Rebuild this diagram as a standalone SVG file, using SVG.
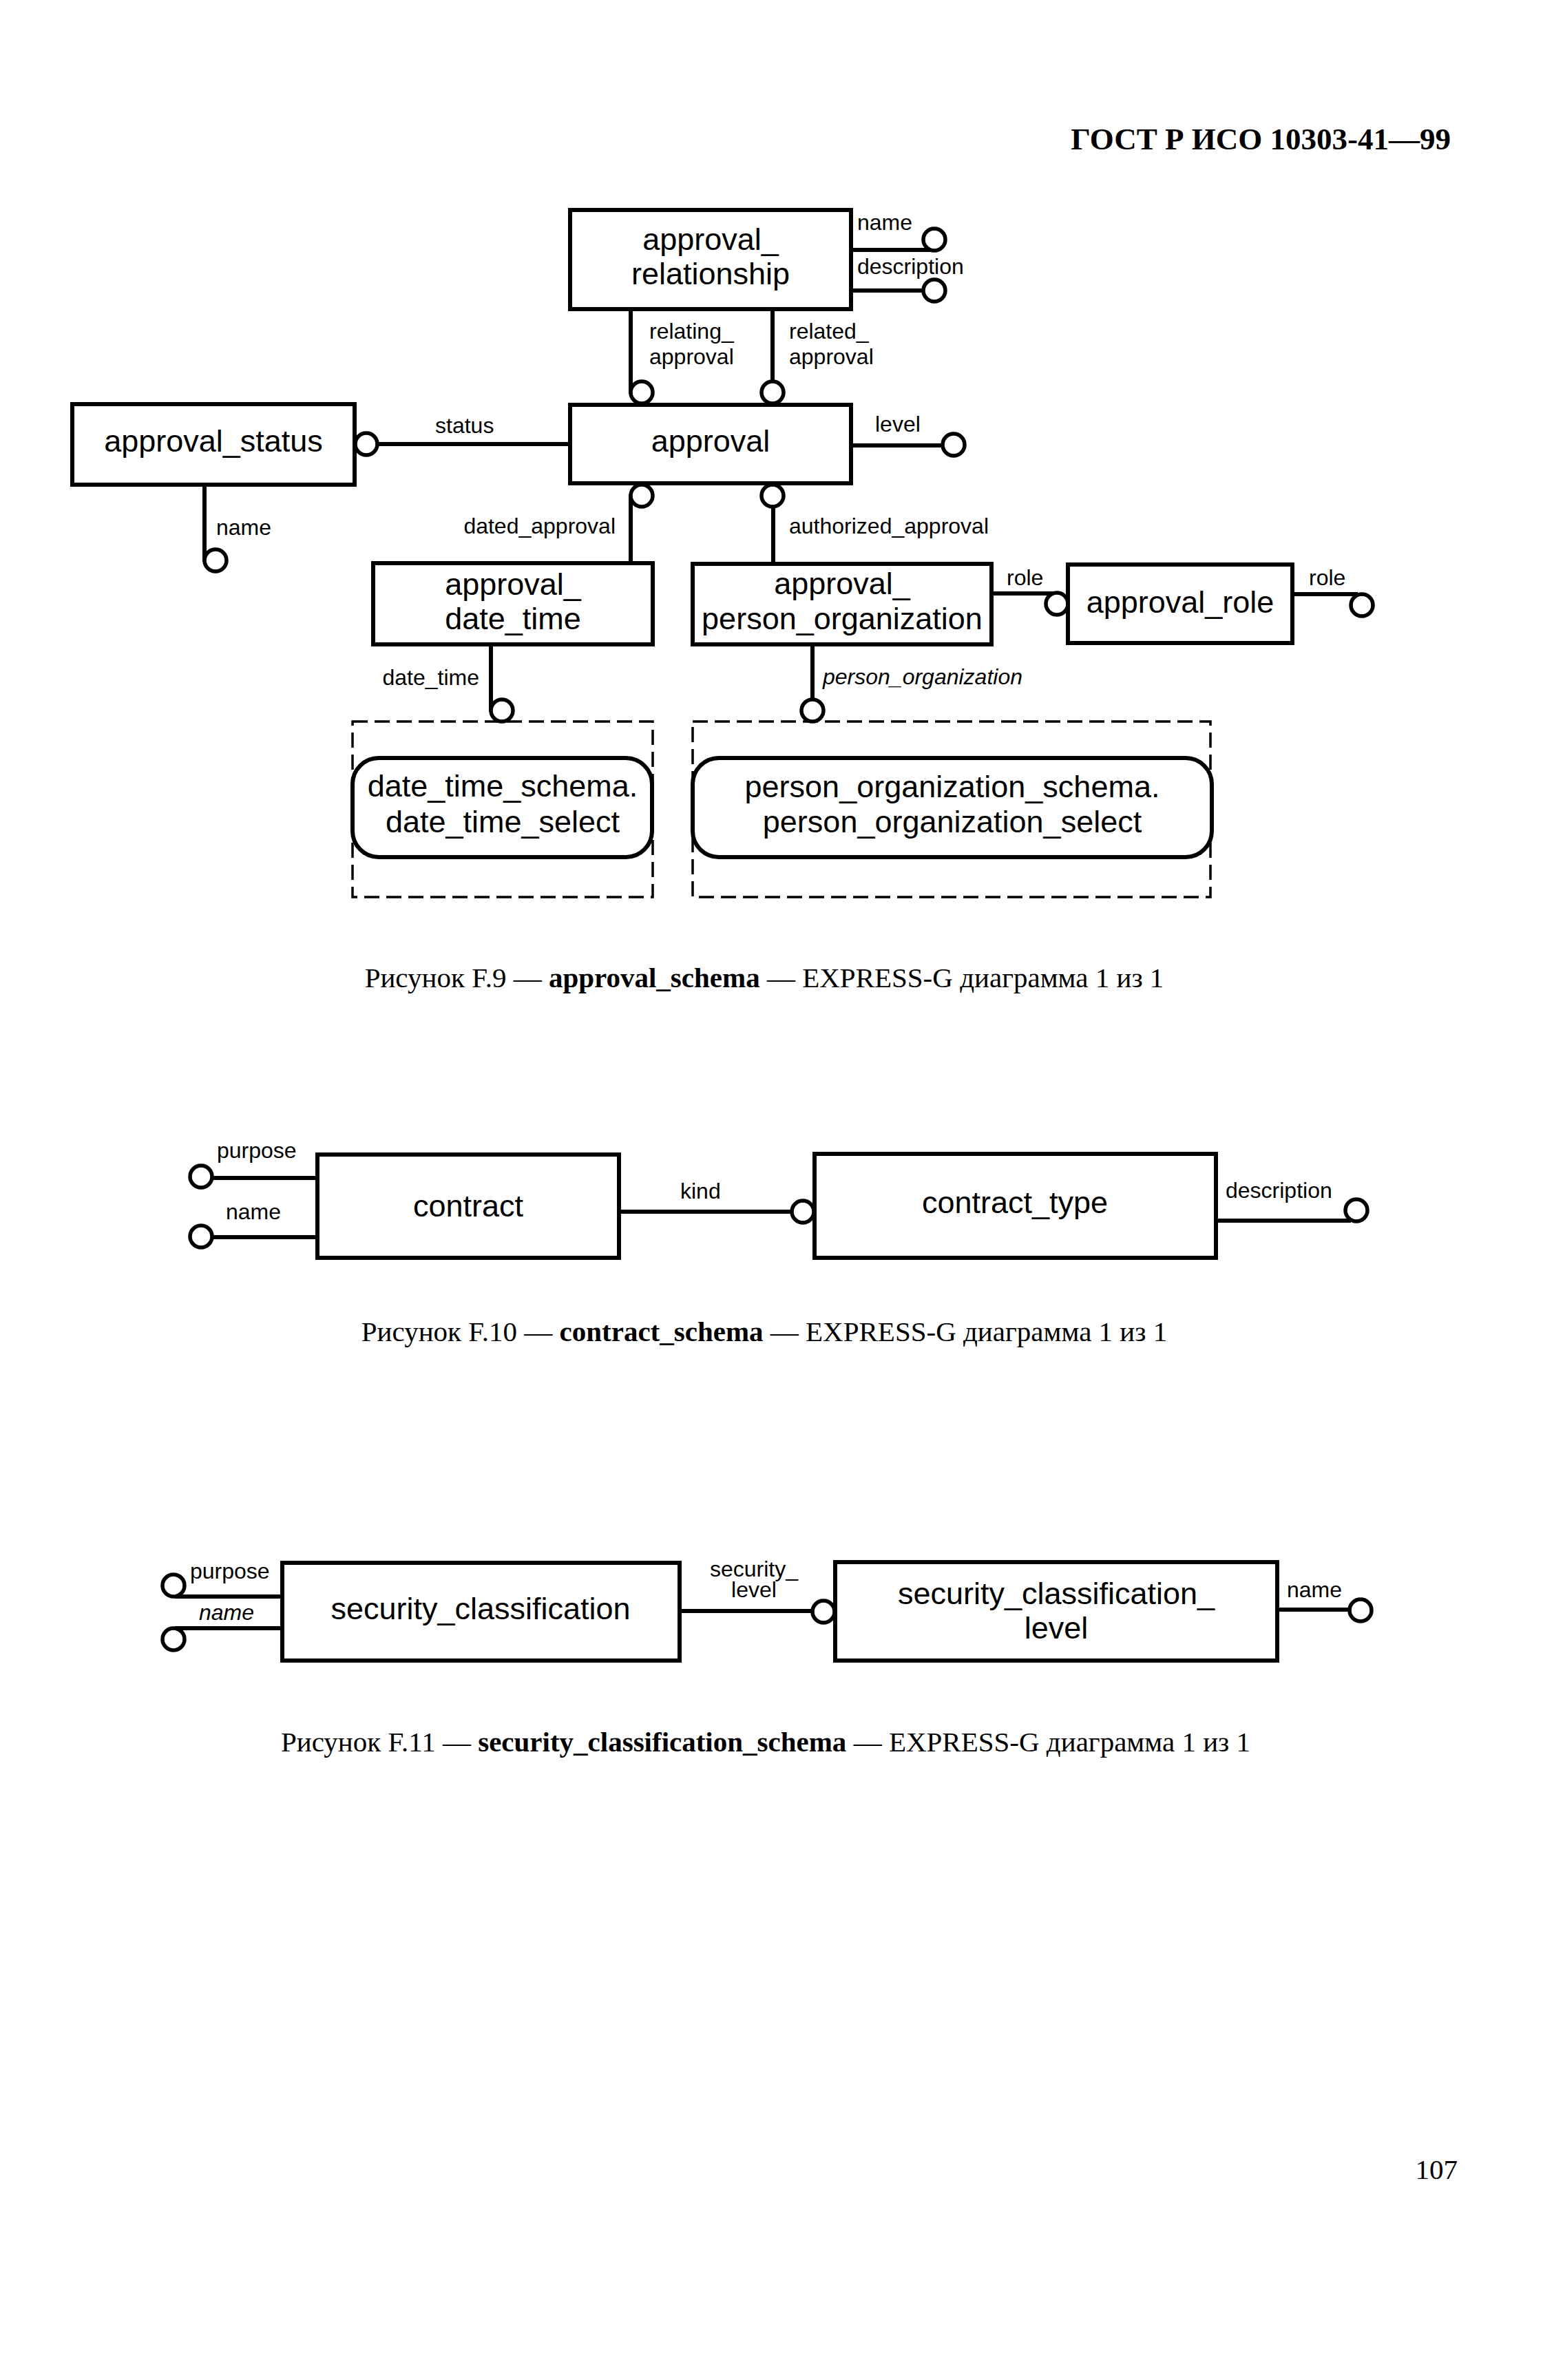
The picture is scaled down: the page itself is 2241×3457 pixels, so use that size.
<svg xmlns="http://www.w3.org/2000/svg" width="2241" height="3457" viewBox="0 0 2241 3457">
<style>
.bg{fill:#fff}
.box{fill:#fff;stroke:#000;stroke-width:6}
.rbox{fill:#fff;stroke:#000;stroke-width:6}
.dash{fill:none;stroke:#000;stroke-width:3.5;stroke-dasharray:22 10}
.ln{stroke:#000;stroke-width:6;fill:none}
.ci{fill:#fff;stroke:#000;stroke-width:5.5}
.t{font-family:"Liberation Sans",Arial,sans-serif;font-size:45px;fill:#000;text-anchor:middle}
.lb{font-family:"Liberation Sans",Arial,sans-serif;font-size:32px;fill:#000}
.it{font-style:italic}
.end{text-anchor:end}
.mid{text-anchor:middle}
.cap{font-family:"Liberation Serif","Times New Roman",serif;font-size:41px;fill:#000;text-anchor:middle}
.hdr{font-family:"Liberation Serif","Times New Roman",serif;font-size:45px;font-weight:bold;fill:#000;text-anchor:end}
</style>
<rect class="bg" x="0" y="0" width="2241" height="3457"/>
<text class="hdr" x="2107" y="217">ГОСТ Р ИСО 10303-41—99</text>

<g id="connectors">
  <!-- approval_relationship attributes -->
  <line class="ln" x1="1236" y1="363" x2="1352" y2="363"/>
  <circle class="ci" cx="1357" cy="348" r="16"/>
  <text class="lb" x="1245" y="334">name</text>
  <line class="ln" x1="1236" y1="422" x2="1341" y2="422"/>
  <circle class="ci" cx="1357" cy="422" r="16"/>
  <text class="lb" x="1245" y="398">description</text>
  <!-- relating / related -->
  <line class="ln" x1="916" y1="449" x2="916" y2="572"/>
  <circle class="ci" cx="932" cy="570" r="16"/>
  <text class="lb" x="943" y="492">relating_</text>
  <text class="lb" x="943" y="529">approval</text>
  <line class="ln" x1="1122" y1="449" x2="1122" y2="554"/>
  <circle class="ci" cx="1122" cy="570" r="16"/>
  <text class="lb" x="1146" y="492">related_</text>
  <text class="lb" x="1146" y="529">approval</text>
  <!-- level -->
  <line class="ln" x1="1236" y1="647" x2="1369" y2="647"/>
  <circle class="ci" cx="1385" cy="646" r="16"/>
  <text class="lb" x="1271" y="627">level</text>
  <!-- status -->
  <line class="ln" x1="828" y1="645" x2="548" y2="645"/>
  <circle class="ci" cx="532" cy="645" r="16"/>
  <text class="lb" x="632" y="629">status</text>
  <!-- approval_status name -->
  <line class="ln" x1="297" y1="704" x2="297" y2="816"/>
  <circle class="ci" cx="313" cy="814" r="16"/>
  <text class="lb" x="314" y="777">name</text>
  <!-- dated_approval -->
  <line class="ln" x1="916" y1="718" x2="916" y2="818"/>
  <circle class="ci" cx="932" cy="720" r="16"/>
  <text class="lb end" x="894" y="775">dated_approval</text>
  <!-- authorized_approval -->
  <line class="ln" x1="1123" y1="736" x2="1123" y2="819"/>
  <circle class="ci" cx="1122" cy="720" r="16"/>
  <text class="lb" x="1146" y="775">authorized_approval</text>
  <!-- date_time -->
  <line class="ln" x1="713" y1="936" x2="713" y2="1034"/>
  <circle class="ci" cx="729" cy="1032" r="16"/>
  <text class="lb end" x="696" y="995">date_time</text>
  <!-- person_organization -->
  <line class="ln" x1="1180" y1="936" x2="1180" y2="1016"/>
  <circle class="ci" cx="1180" cy="1032" r="16"/>
  <text class="lb it" x="1195" y="994">person_organization</text>
  <!-- role -->
  <line class="ln" x1="1440" y1="862" x2="1533" y2="862"/>
  <circle class="ci" cx="1535" cy="877" r="16"/>
  <text class="lb" x="1462" y="850">role</text>
  <line class="ln" x1="1877" y1="863" x2="1972" y2="863"/>
  <circle class="ci" cx="1978" cy="879" r="16"/>
  <text class="lb" x="1901" y="850">role</text>

  <!-- contract -->
  <line class="ln" x1="461" y1="1711" x2="308" y2="1711"/>
  <circle class="ci" cx="292" cy="1709" r="16"/>
  <text class="lb" x="315" y="1682">purpose</text>
  <line class="ln" x1="461" y1="1797" x2="308" y2="1797"/>
  <circle class="ci" cx="292" cy="1796" r="16"/>
  <text class="lb" x="328" y="1771">name</text>
  <line class="ln" x1="899" y1="1760" x2="1149" y2="1760"/>
  <circle class="ci" cx="1166" cy="1760" r="16"/>
  <text class="lb" x="988" y="1741">kind</text>
  <line class="ln" x1="1766" y1="1773" x2="1962" y2="1773"/>
  <circle class="ci" cx="1970" cy="1758" r="16"/>
  <text class="lb" x="1780" y="1740">description</text>

  <!-- security -->
  <line class="ln" x1="410" y1="2319" x2="254" y2="2319"/>
  <circle class="ci" cx="252" cy="2303" r="16"/>
  <text class="lb" x="276" y="2293">purpose</text>
  <line class="ln" x1="410" y1="2365" x2="254" y2="2365"/>
  <circle class="ci" cx="252" cy="2381" r="16"/>
  <text class="lb it" x="289" y="2353">name</text>
  <line class="ln" x1="987" y1="2340" x2="1179" y2="2340"/>
  <circle class="ci" cx="1196" cy="2341" r="16"/>
  <text class="lb mid" x="1095" y="2290">security_</text>
  <text class="lb mid" x="1095" y="2320">level</text>
  <line class="ln" x1="1855" y1="2338" x2="1960" y2="2338"/>
  <circle class="ci" cx="1976" cy="2339" r="16"/>
  <text class="lb" x="1869" y="2320">name</text>
</g>

<g id="approval_relationship">
  <rect class="box" x="828" y="305" width="408" height="144"/>
  <text class="t" x="1032" y="363">approval_</text>
  <text class="t" x="1032" y="413">relationship</text>
</g>
<g id="approval">
  <rect class="box" x="828" y="588" width="408" height="114"/>
  <text class="t" x="1032" y="656">approval</text>
</g>
<g id="approval_status">
  <rect class="box" x="105" y="587" width="410" height="117"/>
  <text class="t" x="310" y="656">approval_status</text>
</g>
<g id="approval_date_time">
  <rect class="box" x="542" y="818" width="406" height="118"/>
  <text class="t" x="745" y="864">approval_</text>
  <text class="t" x="745" y="914">date_time</text>
</g>
<g id="approval_person_organization">
  <rect class="box" x="1006" y="819" width="434" height="117"/>
  <text class="t" x="1223" y="863">approval_</text>
  <text class="t" x="1223" y="914">person_organization</text>
</g>
<g id="approval_role">
  <rect class="box" x="1551" y="820" width="326" height="114"/>
  <text class="t" x="1714" y="890">approval_role</text>
</g>
<g id="date_time_select">
  <rect class="dash" x="512" y="1048" width="436" height="255"/>
  <rect class="rbox" x="512" y="1101" width="435" height="144" rx="38" ry="38"/>
  <text class="t" x="730" y="1157">date_time_schema.</text>
  <text class="t" x="730" y="1209">date_time_select</text>
</g>
<g id="person_organization_select">
  <rect class="dash" x="1006" y="1048" width="752" height="255"/>
  <rect class="rbox" x="1006" y="1101" width="754" height="144" rx="38" ry="38"/>
  <text class="t" x="1383" y="1158">person_organization_schema.</text>
  <text class="t" x="1383" y="1209">person_organization_select</text>
</g>

<text class="cap" x="1110" y="1434">Рисунок F.9 — <tspan font-weight="bold">approval_schema</tspan> — EXPRESS-G диаграмма 1 из 1</text>

<g id="contract">
  <rect class="box" x="461" y="1677" width="438" height="150"/>
  <text class="t" x="680" y="1767">contract</text>
</g>
<g id="contract_type">
  <rect class="box" x="1183" y="1676" width="583" height="151"/>
  <text class="t" x="1474" y="1762">contract_type</text>
</g>

<text class="cap" x="1110" y="1948">Рисунок F.10 — <tspan font-weight="bold">contract_schema</tspan> — EXPRESS-G диаграмма 1 из 1</text>

<g id="security_classification">
  <rect class="box" x="410" y="2270" width="577" height="142"/>
  <text class="t" x="698" y="2352">security_classification</text>
</g>
<g id="security_classification_level">
  <rect class="box" x="1213" y="2269" width="642" height="143"/>
  <text class="t" x="1534" y="2330">security_classification_</text>
  <text class="t" x="1534" y="2380">level</text>
</g>

<text class="cap" x="1112" y="2544">Рисунок F.11 — <tspan font-weight="bold">security_classification_schema</tspan> — EXPRESS-G диаграмма 1 из 1</text>

<text class="cap" x="2117" y="3165" style="text-anchor:end">107</text>
</svg>
